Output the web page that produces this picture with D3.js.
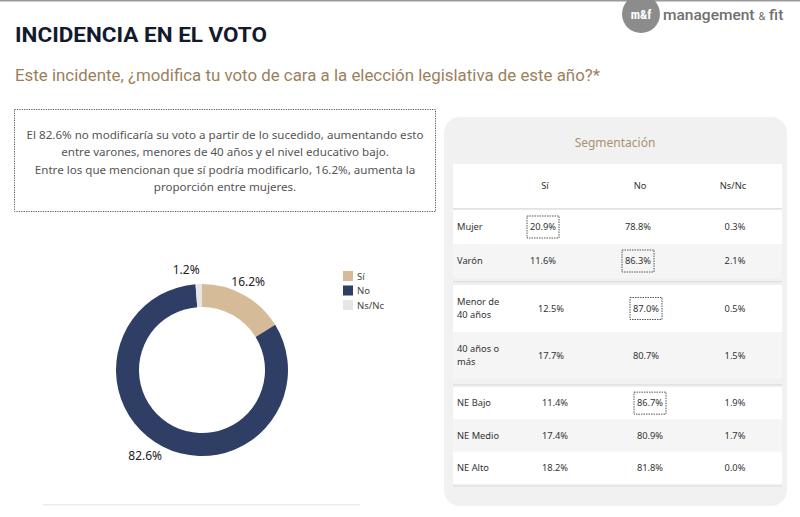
<!DOCTYPE html>
<html><head><meta charset="utf-8">
<script src="https://cdn.jsdelivr.net/npm/d3@7"></script>
<style>body{margin:0;background:#fff}svg{display:block}</style>
</head><body><svg id="c" width="800" height="517"></svg>
<script>
// ---- data ----
const donutCats = ["Sí", "No", "Ns/Nc"];
const donutVals = [16.2, 82.6, 1.2];
const colCats = ["Sí", "No", "Ns/Nc"];
const segLabels = [["Mujer"], ["Varón"], ["Menor de", "40 años"], ["40 años o", "más"], ["NE Bajo"], ["NE Medio"], ["NE Alto"]];
const segGroup = [0, 0, 1, 1, 2, 2, 2];
const siVals = [20.9, 11.6, 12.5, 17.7, 11.4, 17.4, 18.2];
const noVals = [78.8, 86.3, 87.0, 80.7, 86.7, 80.9, 81.8];
const nsVals = [0.3, 2.1, 0.5, 1.5, 1.9, 1.7, 0.0];
const highlightCol = [0, 1, 1, -1, 1, -1, -1];
const summaryLines = [
  "El 82.6% no modificaría su voto a partir de lo sucedido, aumentando esto",
  "entre varones, menores de 40 años y el nivel educativo bajo.",
  "Entre los que mencionan que sí podría modificarlo, 16.2%, aumenta la",
  "proporción entre mujeres."
];

const svg = d3.select("#c");
const FONT = "'Noto Sans', sans-serif";

// top rule
svg.append("rect").attr("x", 0).attr("y", 0).attr("width", 800).attr("height", 1.5).attr("fill", "#9a9a9a");

// logo
svg.append("circle").attr("cx", 641).attr("cy", 14).attr("r", 19).attr("fill", "#8c8c8c");
svg.append("text").attr("x", 641).attr("y", 19).attr("text-anchor", "middle")
  .attr("font-family", "'Roboto Condensed','Roboto',sans-serif").attr("font-weight", 700)
  .attr("font-size", 12.5).attr("fill", "#fff").text("m&f");
const logoT = svg.append("text").attr("x", 663).attr("y", 20)
  .attr("font-family", "Roboto, sans-serif").attr("font-weight", 500).attr("font-size", 15.5).attr("fill", "#707070");
logoT.append("tspan").text("management ");
logoT.append("tspan").attr("font-size", 11).attr("font-weight", 400).text("&");
logoT.append("tspan").text(" fit");

// titles
svg.append("text").attr("x", 15).attr("y", 42).attr("font-family", "Roboto, sans-serif")
  .attr("font-weight", 700).attr("font-size", 21).attr("fill", "#141a2e")
  .attr("textLength", 252).attr("lengthAdjust", "spacingAndGlyphs")
  .text("INCIDENCIA EN EL VOTO");
svg.append("text").attr("x", 15).attr("y", 81).attr("font-family", "Roboto, sans-serif")
  .attr("font-size", 16.5).attr("fill", "#9c7f5c")
  .attr("textLength", 585).attr("lengthAdjust", "spacingAndGlyphs")
  .text("Este incidente, ¿modifica tu voto de cara a la elección legislativa de este año?*");

// summary box
svg.append("rect").attr("x", 14.5).attr("y", 109.5).attr("width", 421).attr("height", 102)
  .attr("fill", "#fff").attr("stroke", "#555").attr("stroke-width", 1).attr("stroke-dasharray", "1.2,1.2");
const lineY = d3.scalePoint().domain(d3.range(summaryLines.length)).range([139, 191]);
svg.append("g").selectAll("text").data(summaryLines).join("text")
  .attr("x", 225).attr("y", (d, i) => lineY(i)).attr("text-anchor", "middle")
  .attr("font-family", FONT).attr("font-size", 11.6).attr("fill", "#555").text(d => d);

// donut
const cx = 202, cy = 370;
const color = d3.scaleOrdinal().domain(donutCats).range(["#d5bb97", "#2f3e64", "#e6e6e6"]);
const pie = d3.pie().sort(null).value(d => d.v);
const arcs = pie(donutCats.map((c, i) => ({ c, v: donutVals[i] })));
const arc = d3.arc().innerRadius(63).outerRadius(86);
const gD = svg.append("g").attr("transform", `translate(${cx},${cy})`);
gD.selectAll("path").data(arcs).join("path").attr("d", arc).attr("fill", d => color(d.data.c));
const labelArc = d3.arc().innerRadius(101).outerRadius(101);
const labelNudge = { "Sí": [-3, 0], "No": [-11, -4], "Ns/Nc": [-12, 1] };
gD.selectAll("text").data(arcs).join("text")
  .attr("x", d => labelArc.centroid(d)[0] + labelNudge[d.data.c][0])
  .attr("y", d => labelArc.centroid(d)[1] + labelNudge[d.data.c][1] + 4)
  .attr("text-anchor", "middle").attr("font-family", FONT).attr("font-size", 12)
  .attr("fill", "#222").text(d => d.data.v.toFixed(1) + "%");

// legend
const legY = d3.scalePoint().domain(donutCats).range([276, 305]);
const gL = svg.append("g");
gL.selectAll("rect").data(donutCats).join("rect")
  .attr("x", 343).attr("y", d => legY(d) - 5).attr("width", 10).attr("height", 10).attr("fill", d => color(d));
gL.selectAll("text").data(donutCats).join("text")
  .attr("x", 357).attr("y", d => legY(d) + 3.5).attr("font-family", FONT).attr("font-size", 9.5)
  .attr("fill", "#444").text(d => d);

// faint bottom rule
svg.append("rect").attr("x", 43).attr("y", 504).attr("width", 317).attr("height", 1.5).attr("fill", "#ececec");

// segmentation panel
svg.append("rect").attr("x", 444).attr("y", 117).attr("width", 343).attr("height", 389).attr("rx", 16)
  .attr("fill", "#f1f1f1");
svg.append("text").attr("x", 615).attr("y", 147).attr("text-anchor", "middle")
  .attr("font-family", FONT).attr("font-size", 12).attr("fill", "#a8916f").text("Segmentación");

const tx0 = 453, tx1 = 782;
const colX = d3.scalePoint().domain(colCats).range([545, 735]);
const groupShift = [-2, 6, 10];

// header row
svg.append("rect").attr("x", tx0).attr("y", 164).attr("width", tx1 - tx0).attr("height", 44).attr("fill", "#fff");
svg.append("g").selectAll("text").data(colCats).join("text")
  .attr("x", d => colX(d) - (d === "Ns/Nc" ? 2 : 0)).attr("y", 189).attr("text-anchor", "middle")
  .attr("font-family", FONT).attr("font-size", 9.3).attr("fill", "#333").text(d => d);

// row geometry per group
const groupTop = [210, 285, 387];
const groupRowH = [34, 47, 32.3];
const rows = segLabels.map((lab, i) => {
  const g = segGroup[i];
  const idxInGroup = segGroup.slice(0, i).filter(x => x === g).length;
  const y0 = groupTop[g] + idxInGroup * groupRowH[g];
  return { lab, g, idxInGroup, y0, h: groupRowH[g], vals: [siVals[i], noVals[i], nsVals[i]], hl: highlightCol[i] };
});

// group separator lines
[208, 281, 384, 485.5].forEach(y => {
  svg.append("rect").attr("x", tx0).attr("y", y).attr("width", tx1 - tx0).attr("height", 1.5).attr("fill", "#e2e2e2");
});

const gR = svg.append("g").selectAll("g").data(rows).join("g");
gR.append("rect").attr("x", tx0).attr("y", d => d.y0).attr("width", tx1 - tx0).attr("height", d => d.h)
  .attr("fill", d => d.idxInGroup % 2 === 0 ? "#ffffff" : "#f5f5f5");
gR.each(function (d) {
  const g = d3.select(this);
  const cyR = d.y0 + d.h / 2;
  const n = d.lab.length;
  d.lab.forEach((t, k) => {
    g.append("text").attr("x", 457).attr("y", cyR + 3.2 + (k - (n - 1) / 2) * 13)
      .attr("font-family", FONT).attr("font-size", 9.3).attr("fill", "#333").text(t);
  });
  d.vals.forEach((v, j) => {
    const x = colX(colCats[j]) + (j < 2 ? groupShift[d.g] : 0);
    g.append("text").attr("x", x).attr("y", cyR + 3.2).attr("text-anchor", "middle")
      .attr("font-family", FONT).attr("font-size", 9.3).attr("fill", "#333").text(v.toFixed(1) + "%");
    if (d.hl === j) {
      g.append("rect").attr("x", x - 16).attr("y", cyR - 11).attr("width", 32).attr("height", 22)
        .attr("fill", "none").attr("stroke", "#444").attr("stroke-width", 0.9).attr("stroke-dasharray", "1.5,1");
    }
  });
});
</script></body></html>
